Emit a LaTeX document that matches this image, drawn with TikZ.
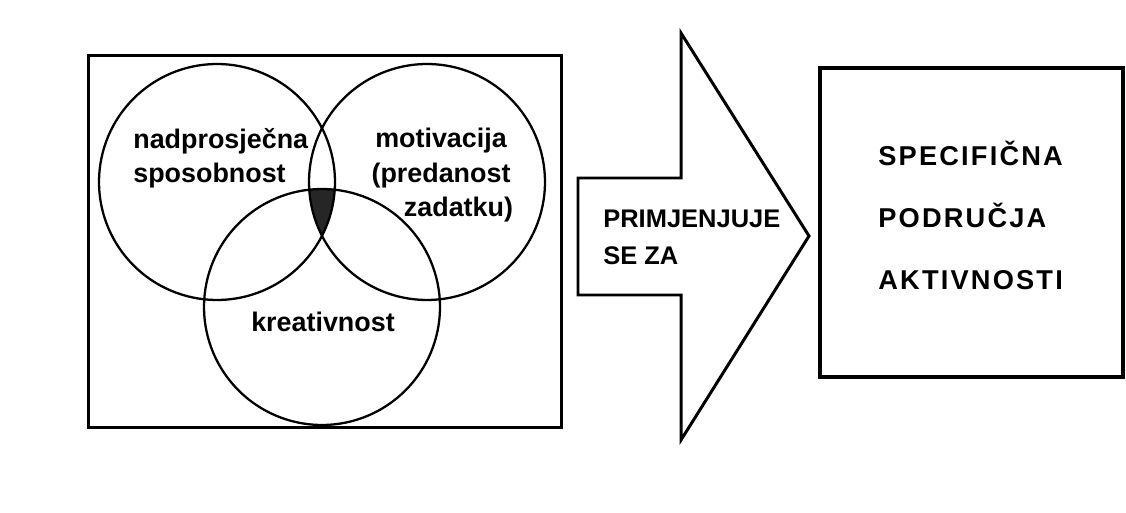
\documentclass[tikz,border=0pt]{standalone}
\usepackage{fontspec}
\setmainfont{Liberation Sans}
\newfontfamily\spacedfont[LetterSpace=8]{Liberation Sans}
\usetikzlibrary{positioning, calc}

\begin{document}
\begin{tikzpicture}[
    x=0.02cm, y=-0.02cm,
    frame/.style={draw, line width=1.7pt},
    set/.style={circle, draw, line width=1.3pt, minimum size=4.72cm, inner sep=0pt},
    setlabel/.style={inner sep=0pt, font=\bfseries\fontsize{15.3}{19.9}\selectfont},
    arrowlabel/.style={inner sep=0pt, align=left, font=\bfseries\fontsize{14.5}{21.6}\selectfont},
    arealabel/.style={inner sep=0pt, align=left, font=\spacedfont\bfseries\fontsize{15.5}{35.3}\selectfont}
]
    % Page
    \path[fill=white] (0,0) rectangle (1126,513);

    % Shaded core of the three sets
    \begin{scope}
        \clip (217,182) circle (2.36cm);
        \clip (427,182) circle (2.36cm);
        \fill[black!85] (322,307) circle (2.36cm);
    \end{scope}

    % Three sets
    \node[set] (ability) at (217,182) {};
    \node[set] (motivation) at (427,182) {};
    \node[set] (creativity) at (322,307) {};

    % Frame round the sets
    \node[frame, minimum width=9.48cm, minimum height=7.46cm] (venn) at (325,241.5) {};

    % Set labels (base = last line)
    \node[setlabel, align=left, anchor=base west] (abilitytext) at (133,183) {nadprosječna\\sposobnost};
    \node[setlabel, align=center, anchor=base] (motivationtext) at (441,217) {motivacija\\(predanost\\\hspace*{1.3em}zadatku)};
    \node[setlabel, anchor=base] (creativitytext) at (323,332) {kreativnost};

    % Arrow
    \draw[frame] (578,178) -- (681,178) -- (681,33) -- (809,236) -- (681,440) -- (681,295) -- (578,295) -- cycle;
    \node[arrowlabel, anchor=base west] (apply) at (603,265) {PRIMJENJUJE\\SE ZA};

    % Areas of activity
    \node[frame, line width=2pt, minimum width=6.06cm, minimum height=6.18cm] (areas) at (971.5,222.5) {};
    \node[arealabel, anchor=base west] (areastext) at (878,290) {SPECIFIČNA\\PODRUČJA\\AKTIVNOSTI};
\end{tikzpicture}
\end{document}
